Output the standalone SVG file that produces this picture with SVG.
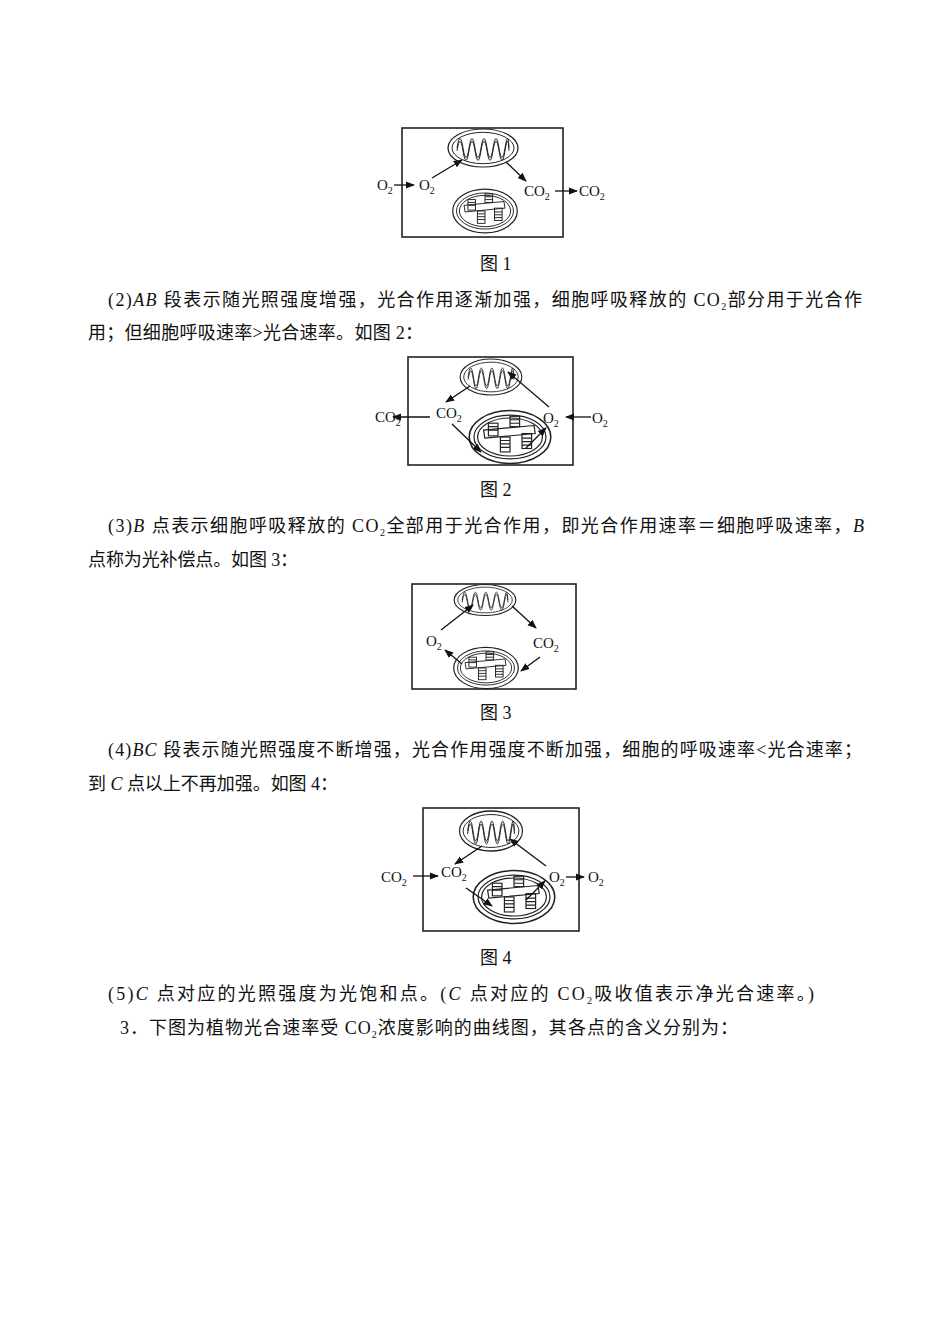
<svg xmlns="http://www.w3.org/2000/svg" width="950" height="1344" viewBox="0 0 950 1344">
<style>
text{font-family:"Liberation Serif","Noto Sans CJK SC",serif;font-size:18px;fill:#111}
.l{font-size:15px}
.s{font-size:10px}
.box{fill:none;stroke:#222;stroke-width:1.6}
.ar{stroke:#111;stroke-width:1.3;fill:none;marker-end:url(#ah)}
.o{fill:#fff;stroke:#222;stroke-width:1.3}
.i{fill:none;stroke:#222;stroke-width:1}
</style>
<defs>
<marker id="ah" viewBox="0 0 10 10" refX="9" refY="5" markerWidth="7" markerHeight="7" orient="auto"><path d="M0,1 L10,5 L0,9 z" fill="#111"/></marker>
<g id="mito">
<ellipse class="o" rx="35" ry="20"/>
<ellipse class="i" rx="31" ry="16.5"/>
<path class="i" d="M-26,0 Q-23,-20 -20,0 T-14,0 T-8,0 T-2,0 T4,0 T10,0 T16,0 T22,0 T26,0"/>
<path class="i" d="M-26,3 Q-23,-17 -20,3 T-14,3 T-8,3 T-2,3 T4,3 T10,3 T16,3 T22,3 T26,3"/>
</g>
<g id="chl">
<ellipse class="o" rx="34" ry="23"/>
<ellipse class="i" rx="30" ry="19"/>
<ellipse class="i" rx="27" ry="16.5"/>
<path class="i" d="M-22,-6 L20,-10 L21,-3 L-21,1 z"/>
<g class="i">
<rect x="-18" y="-12" width="8" height="11"/><path d="M-18,-9h8M-18,-6h8"/>
<rect x="0" y="-18" width="8" height="9"/><path d="M0,-15h8M0,-12h8"/>
<rect x="-8" y="0" width="8" height="13"/><path d="M-8,3h8M-8,6h8M-8,9h8"/>
<rect x="10" y="-3" width="8" height="13"/><path d="M10,1h8M10,4h8M10,7h8"/>
</g>
</g>
</defs>

<g id="fig1">
<rect class="box" x="402" y="128" width="161" height="109"/>
<use href="#mito" transform="translate(483,148) scale(1,0.95)"/>
<use href="#chl" transform="translate(485,211) scale(0.95,0.95)"/>
<text class="l" x="377" y="190">O<tspan class="s" dy="4">2</tspan></text>
<text class="l" x="419" y="190">O<tspan class="s" dy="4">2</tspan></text>
<text class="l" x="524" y="196">CO<tspan class="s" dy="4">2</tspan></text>
<text class="l" x="579" y="196">CO<tspan class="s" dy="4">2</tspan></text>
</g>
<g id="fig2">
<rect class="box" x="408" y="357" width="165" height="108"/>
<use href="#mito" transform="translate(491,377) scale(0.88,0.9)"/>
<use href="#chl" transform="translate(510,437) scale(1.2,1.15)"/>
<text class="l" x="375" y="422">CO<tspan class="s" dy="4">2</tspan></text>
<text class="l" x="436" y="418">CO<tspan class="s" dy="4">2</tspan></text>
<text class="l" x="543" y="423">O<tspan class="s" dy="4">2</tspan></text>
<text class="l" x="592" y="423">O<tspan class="s" dy="4">2</tspan></text>
</g>
<g id="fig3">
<rect class="box" x="412" y="584" width="164" height="105"/>
<use href="#mito" transform="translate(485,600) scale(0.88,0.78)"/>
<use href="#chl" transform="translate(486,668) scale(0.95,0.9)"/>
<text class="l" x="426" y="646">O<tspan class="s" dy="4">2</tspan></text>
<text class="l" x="533" y="648">CO<tspan class="s" dy="4">2</tspan></text>
</g>
<g id="fig4">
<rect class="box" x="423" y="808" width="156" height="123"/>
<use href="#mito" transform="translate(491,831) scale(0.9,1)"/>
<use href="#chl" transform="translate(514,897) scale(1.2,1.15)"/>
<text class="l" x="381" y="882">CO<tspan class="s" dy="4">2</tspan></text>
<text class="l" x="441" y="877">CO<tspan class="s" dy="4">2</tspan></text>
<text class="l" x="549" y="882">O<tspan class="s" dy="4">2</tspan></text>
<text class="l" x="588" y="882">O<tspan class="s" dy="4">2</tspan></text>
</g>

<g id="connectors">
<path class="ar" d="M394,185 L414,185"/>
<path class="ar" d="M432,178 L462,160"/>
<path class="ar" d="M506,162 L526,181"/>
<path class="ar" d="M555,191 L577,191"/>

<path class="ar" d="M430,417 L393,417"/>
<path class="ar" d="M470,386 L446,402"/>
<path class="ar" d="M549,407 L508,372"/>
<path class="ar" d="M452,424 L481,452"/>
<path class="ar" d="M526,448 L546,428"/>
<path class="ar" d="M591,417 L566,417"/>

<path class="ar" d="M441,630 L473,605"/>
<path class="ar" d="M512,606 L536,628"/>
<path class="ar" d="M540,657 L521,671"/>
<path class="ar" d="M462,664 L445,650"/>

<path class="ar" d="M413,876 L438,876"/>
<path class="ar" d="M482,846 L455,864"/>
<path class="ar" d="M546,866 L510,839"/>
<path class="ar" d="M466,888 L492,906"/>
<path class="ar" d="M526,900 L545,881"/>
<path class="ar" d="M566,877 L584,877"/>
</g>

<text x="480" y="270">图 1</text>
<text x="108" y="306" textLength="754" lengthAdjust="spacing">(2)<tspan font-style="italic">AB</tspan> 段表示随光照强度增强，光合作用逐渐加强，细胞呼吸释放的 CO<tspan class="s" dy="4">2</tspan><tspan dy="-4">部分用于光合作</tspan></text>
<text x="88" y="339" textLength="335" lengthAdjust="spacing">用；但细胞呼吸速率&gt;光合速率。如图 2：</text>
<text x="480" y="496">图 2</text>
<text x="108" y="532" textLength="756" lengthAdjust="spacing">(3)<tspan font-style="italic">B</tspan> 点表示细胞呼吸释放的 CO<tspan class="s" dy="4">2</tspan><tspan dy="-4">全部用于光合作用，即光合作用速率＝细胞呼吸速率，</tspan><tspan font-style="italic">B</tspan></text>
<text x="88" y="566" textLength="210" lengthAdjust="spacing">点称为光补偿点。如图 3：</text>
<text x="480" y="719">图 3</text>
<text x="108" y="756" textLength="754" lengthAdjust="spacing">(4)<tspan font-style="italic">BC</tspan> 段表示随光照强度不断增强，光合作用强度不断加强，细胞的呼吸速率&lt;光合速率；</text>
<text x="88" y="790" textLength="250" lengthAdjust="spacing">到 <tspan font-style="italic">C</tspan> 点以上不再加强。如图 4：</text>
<text x="480" y="964">图 4</text>
<text x="108" y="1000" textLength="706" lengthAdjust="spacing">(5)<tspan font-style="italic">C</tspan> 点对应的光照强度为光饱和点。(<tspan font-style="italic">C</tspan> 点对应的 CO<tspan class="s" dy="4">2</tspan><tspan dy="-4">吸收值表示净光合速率。)</tspan></text>
<text x="120" y="1034" textLength="618" lengthAdjust="spacing">3．下图为植物光合速率受 CO<tspan class="s" dy="4">2</tspan><tspan dy="-4">浓度影响的曲线图，其各点的含义分别为：</tspan></text>
</svg>
